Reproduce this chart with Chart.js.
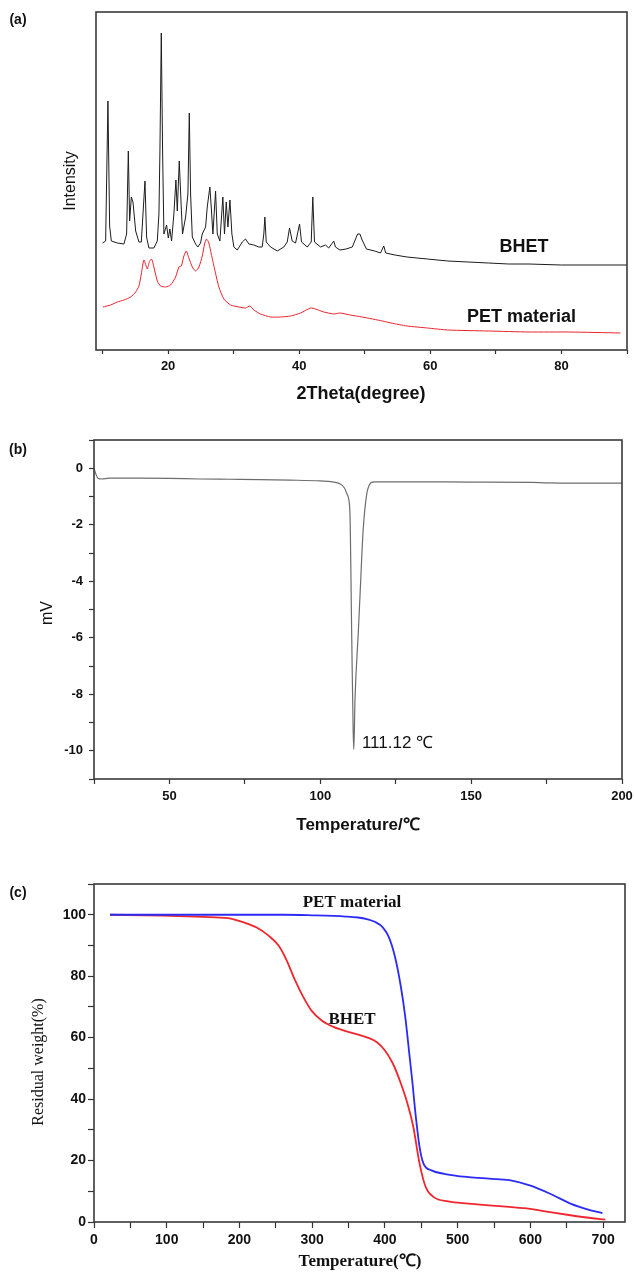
<!DOCTYPE html>
<html>
<head>
<meta charset="utf-8">
<script src="https://cdn.jsdelivr.net/npm/chart.js@4.4.0/dist/chart.umd.min.js"></script>
<style>
  html, body { margin: 0; padding: 0; background: #fff; }
  body { width: 634px; height: 1273px; position: relative; overflow: hidden; }
  canvas { position: absolute; left: 0; }
  #xrd { top: 0; }
  #dsc { top: 420px; }
  #tga { top: 860px; }
</style>
</head>
<body>
<canvas id="xrd" width="634" height="420"></canvas>
<canvas id="dsc" width="634" height="440"></canvas>
<canvas id="tga" width="634" height="413"></canvas>
<script>
// (a) XRD patterns, intensity in arbitrary units
const xrdAngleBHET = [10.0, 10.47, 10.82, 11.08, 11.34, 12.26, 13.26, 13.67, 13.93, 14.13, 14.39, 14.64, 15.05, 15.55, 15.91, 16.47, 16.72, 17.07, 17.83, 18.35,
  18.6, 18.75, 18.96, 19.16, 19.36, 19.77, 20.03, 20.27, 20.53, 20.88, 21.19, 21.4, 21.7, 22.0, 22.2, 22.67, 23.02, 23.23, 23.43, 23.69,
  24.19, 24.54, 24.95, 25.21, 25.72, 25.97, 26.37, 26.58, 26.83, 27.24, 27.5, 27.9, 28.35, 28.6, 28.87, 29.12, 29.43, 29.73, 30.03, 30.55,
  31.31, 31.81, 32.32, 33.08, 33.84, 34.35, 34.6, 34.76, 34.97, 35.63, 36.65, 37.65, 38.17, 38.52, 38.93, 39.44, 40.05, 40.35, 41.22, 41.83,
  42.07, 42.33, 43.25, 44.0, 44.5, 45.27, 45.53, 46.2, 47.15, 48.1, 48.9, 49.26, 49.6, 50.25, 51.5, 52.4, 52.9, 53.2, 54.6, 56.45,
  59.55, 62.65, 65.75, 68.85, 71.95, 75.05, 80.0, 90.0];
const xrdIntBHET = [107, 109, 249, 124, 109, 107, 106, 116, 199, 129, 153, 148, 119, 108, 108, 169, 113, 102, 102, 109,
  136, 198, 317, 198, 116, 125, 112, 121, 109, 136, 170, 139, 189, 143, 116, 133, 156, 237, 156, 113,
  106, 103, 107, 116, 123, 143, 163, 143, 116, 159, 116, 109, 153, 116, 148, 123, 150, 116, 103, 100,
  108, 111, 106, 105, 103, 103, 116, 133, 108, 103, 99, 103, 108, 122, 109, 107, 126, 108, 103, 108,
  153, 108, 103, 105, 102, 109, 103, 100, 101, 103, 116, 116, 110, 101, 99, 97, 104, 97, 95, 93,
  91, 89, 88, 87, 86, 86, 85, 85];
const xrdAnglePET = [10.06, 11.23, 12.26, 13.26, 14.28, 15.05, 15.55, 15.91, 16.31, 16.83, 17.13, 17.48, 17.83, 18.35, 18.86, 19.62, 20.38, 21.14, 21.65, 22.01,
  22.41, 22.77, 23.17, 23.69, 24.19, 24.7, 25.21, 25.56, 25.87, 26.22, 26.58, 27.09, 27.74, 28.51, 29.53, 30.8, 31.81, 32.47, 33.08, 34.1,
  35.63, 37.15, 38.67, 40.2, 41.72, 42.48, 43.75, 45.27, 46.2, 47.8, 49.6, 52.7, 54.0, 56.45, 59.55, 62.65, 68.85, 75.05, 81.25, 89.0];
const xrdIntPET = [43, 45, 48, 50, 53, 58, 64, 76, 90, 81, 88, 91, 83, 69, 64, 63, 65, 73, 83, 84,
  94, 99, 92, 83, 79, 83, 94, 106, 111, 107, 96, 81, 63, 51, 45, 43, 42, 44, 40, 36,
  33, 33, 34, 37, 42, 41, 38, 36, 37, 35, 33, 29, 27, 24, 22, 20, 19, 18, 18, 17];
const xrdTickLabels = [20, 40, 60, 80];

// (b) DSC trace of BHET
const dscTemp = [25, 25.6, 26.3, 27.5, 30, 40, 50, 60, 70, 80, 90, 100, 104, 106.5, 108, 109, 109.8, 110.4, 110.9, 111.12,
  111.5, 112.6, 113.3, 114.2, 115.4, 116.2, 117, 118, 130, 150, 170, 175, 185, 200];
const dscSignal = [0, -0.2, -0.35, -0.38, -0.35, -0.35, -0.36, -0.38, -0.39, -0.40, -0.42, -0.45, -0.48, -0.55, -0.7, -0.95, -1.5, -5.8, -9.3, -9.95,
  -8.2, -5.8, -4.2, -2.2, -0.91, -0.6, -0.5, -0.48, -0.48, -0.49, -0.5, -0.52, -0.53, -0.53];
const dscPeakTemp = 111.12;
const dscXTickLabels = [50, 100, 150, 200];
const dscYTickLabels = [0, -2, -4, -6, -8, -10];

// (c) TGA curves
const tgaTempPET = [22, 100, 200, 262, 300, 346, 363, 375, 386, 397, 405.5, 414, 422, 428, 433.5, 437.5, 442, 447.6, 453, 464,
  481, 515, 543, 571, 599, 627, 655, 683, 699];
const tgaWeightPET = [100, 100, 100, 100, 99.8, 99.4, 99.1, 98.6, 97.7, 95.9, 92.6, 86.1, 76.4, 66.6, 54.7, 46, 35.2, 24.4, 19, 16.8,
  15.7, 14.6, 14.1, 13.6, 11.9, 9.2, 6.0, 3.8, 2.9];
const tgaTempBHET = [22, 94, 150, 184, 206, 223, 240, 254, 265, 276.5, 288, 299, 313, 330, 352, 375, 389, 400, 411, 422,
  431, 439, 447.6, 456, 467, 487, 515, 543, 571, 599, 627, 655, 683, 703];
const tgaWeightBHET = [100, 99.7, 99.3, 98.9, 97.5, 95.9, 93.2, 89.9, 85.1, 78.6, 73.1, 68.8, 65.6, 63.4, 61.7, 60.1, 58.5, 55.8, 51.5, 45,
  38.5, 30.9, 19, 11.4, 8.1, 6.7, 6.0, 5.4, 4.9, 4.3, 3.2, 2.2, 1.3, 0.8];
const tgaXTickLabels = [0, 100, 200, 300, 400, 500, 600, 700];
const tgaYTickLabels = [0, 20, 40, 60, 80, 100];

const SANS = "'Liberation Sans', Arial, sans-serif";
const SERIF = "'Liberation Serif', 'Times New Roman', serif";
Chart.defaults.font.family = SANS;
Chart.defaults.color = '#111';

const pts = (xs, ys) => xs.map((x, i) => ({ x: x, y: ys[i] }));

// box around the plot area
const frame = {
  id: 'frame',
  afterDraw(chart) {
    const a = chart.chartArea, ctx = chart.ctx;
    ctx.save();
    ctx.strokeStyle = '#3a3a3a';
    ctx.lineWidth = 1.6;
    ctx.strokeRect(a.left, a.top, a.right - a.left, a.bottom - a.top);
    ctx.restore();
  }
};

// free text: panel letters, axis titles, curve labels
const panelText = {
  id: 'panelText',
  afterDraw(chart, args, opts) {
    const ctx = chart.ctx;
    (opts.items || []).forEach(t => {
      let x = t.x, y = t.y;
      if (t.data) {
        x = chart.scales.x.getPixelForValue(t.x);
        y = chart.scales.y.getPixelForValue(t.y);
      }
      ctx.save();
      ctx.font = t.font;
      ctx.fillStyle = t.color || '#111';
      ctx.textAlign = t.align || 'center';
      ctx.textBaseline = 'middle';
      ctx.translate(x, y);
      if (t.rotate) ctx.rotate(t.rotate);
      ctx.fillText(t.text, 0, 0);
      ctx.restore();
    });
  }
};

// fixed axis boxes so each plot area lands where it should
function xAxis(opts) {
  return {
    type: 'linear',
    min: opts.min, max: opts.max,
    border: { display: false },
    grid: { display: true, drawOnChartArea: false, drawTicks: true, tickLength: opts.tickLength || 5, tickColor: '#333', tickWidth: 1.2 },
    ticks: {
      stepSize: opts.step, includeBounds: false, autoSkip: false, maxRotation: 0, minRotation: 0,
      padding: opts.pad, font: { size: opts.size, weight: 'bold' }, color: '#111',
      callback: v => opts.labels.includes(v) ? String(v) : ''
    },
    afterFit(s) { s.height = opts.height; s.paddingLeft = 0; s.paddingRight = 0; }
  };
}
function yAxis(opts) {
  if (!opts.labels) {
    return {
      type: 'linear', min: opts.min, max: opts.max,
      border: { display: false }, grid: { display: false }, ticks: { display: false },
      afterFit(s) { s.width = opts.width; s.paddingTop = 0; s.paddingBottom = 0; }
    };
  }
  return {
    type: 'linear',
    min: opts.min, max: opts.max,
    border: { display: false },
    grid: { display: true, drawOnChartArea: false, drawTicks: true, tickLength: opts.tickLength || 5, tickColor: '#333', tickWidth: 1.2 },
    ticks: {
      stepSize: opts.step, includeBounds: false, autoSkip: false,
      padding: opts.pad, font: { size: opts.size, weight: 'bold' }, color: '#111',
      callback: v => opts.labels.includes(v) ? String(v) : ''
    },
    afterFit(s) { s.width = opts.width; s.paddingTop = 0; s.paddingBottom = 0; }
  };
}

const lineDefaults = { pointRadius: 0, borderWidth: 1, fill: false };

// (a)
new Chart(document.getElementById('xrd'), {
  type: 'line',
  data: {
    datasets: [
      Object.assign({ label: 'BHET', data: pts(xrdAngleBHET, xrdIntBHET), borderColor: '#1c1c1c', tension: 0 }, lineDefaults),
      Object.assign({ label: 'PET material', data: pts(xrdAnglePET, xrdIntPET), borderColor: '#e8232c', tension: 0.2 }, lineDefaults)
    ]
  },
  options: {
    responsive: false, animation: false, parsing: true,
    layout: { padding: { top: 12, right: 7, left: 0, bottom: 0 } },
    plugins: {
      legend: { display: false }, tooltip: { enabled: false },
      panelText: { items: [
        { text: '(a)', x: 18, y: 20, font: 'bold 14px ' + SANS },
        { text: '2Theta(degree)', x: 361, y: 394, font: 'bold 18px ' + SANS },
        { text: 'Intensity', x: 71, y: 181, font: '16px ' + SANS, rotate: -Math.PI / 2 },
        { text: 'BHET', data: true, x: 74.3, y: 103, font: 'bold 18px ' + SANS },
        { text: 'PET material', data: true, x: 73.9, y: 33, font: 'bold 18px ' + SANS }
      ] }
    },
    scales: {
      x: xAxis({ min: 9, max: 90, step: 10, labels: xrdTickLabels, height: 70, pad: 5, size: 13, tickLength: 4 }),
      y: yAxis({ min: 0, max: 338, width: 96 })
    }
  },
  plugins: [frame, panelText]
});

// (b)
new Chart(document.getElementById('dsc'), {
  type: 'line',
  data: {
    datasets: [
      { label: 'BHET', data: pts(dscTemp, dscSignal), borderColor: '#6e6e6e', borderWidth: 1.2, pointRadius: 0, fill: false, cubicInterpolationMode: 'monotone' }
    ]
  },
  options: {
    responsive: false, animation: false,
    layout: { padding: { top: 20, right: 12, left: 0, bottom: 0 } },
    plugins: {
      legend: { display: false }, tooltip: { enabled: false },
      panelText: { items: [
        { text: '(b)', x: 18, y: 30, font: 'bold 14px ' + SANS },
        { text: 'Temperature/\u2103', x: 358, y: 405, font: 'bold 17px ' + SANS },
        { text: 'mV', x: 48, y: 193, font: '16px ' + SANS, rotate: -Math.PI / 2 },
        { text: dscPeakTemp.toFixed(2) + ' \u2103', data: true, x: 113.8, y: -9.72, font: '17px ' + SANS, align: 'left' }
      ] }
    },
    scales: {
      x: xAxis({ min: 25, max: 200, step: 25, labels: dscXTickLabels, height: 81, pad: 5, size: 13, tickLength: 5 }),
      y: yAxis({ min: -11, max: 1, step: 1, labels: dscYTickLabels, width: 94, pad: 6, size: 13, tickLength: 5 })
    }
  },
  plugins: [frame, panelText]
});

// (c)
new Chart(document.getElementById('tga'), {
  type: 'line',
  data: {
    datasets: [
      { label: 'PET material', data: pts(tgaTempPET, tgaWeightPET), borderColor: '#2b2bf5', borderWidth: 1.8, pointRadius: 0, fill: false, cubicInterpolationMode: 'monotone' },
      { label: 'BHET', data: pts(tgaTempBHET, tgaWeightBHET), borderColor: '#f0262e', borderWidth: 1.8, pointRadius: 0, fill: false, cubicInterpolationMode: 'monotone' }
    ]
  },
  options: {
    responsive: false, animation: false,
    layout: { padding: { top: 24, right: 9, left: 0, bottom: 0 } },
    plugins: {
      legend: { display: false }, tooltip: { enabled: false },
      panelText: { items: [
        { text: '(c)', x: 18, y: 33, font: 'bold 14px ' + SANS },
        { text: 'Temperature(\u2103)', x: 360, y: 402, font: 'bold 17px ' + SERIF },
        { text: 'Residual weight(%)', x: 39, y: 202, font: '16px ' + SERIF, rotate: -Math.PI / 2 },
        { text: 'PET material', data: true, x: 354.7, y: 103.9, font: 'bold 17px ' + SERIF },
        { text: 'BHET', data: true, x: 354.7, y: 66, font: 'bold 17px ' + SERIF }
      ] }
    },
    scales: {
      x: xAxis({ min: 0, max: 730, step: 50, labels: tgaXTickLabels, height: 51, pad: 4, size: 14, tickLength: 6 }),
      y: yAxis({ min: 0, max: 110, step: 10, labels: tgaYTickLabels, width: 94, pad: 2, size: 14, tickLength: 6 })
    }
  },
  plugins: [frame, panelText]
});
</script>
</body>
</html>
